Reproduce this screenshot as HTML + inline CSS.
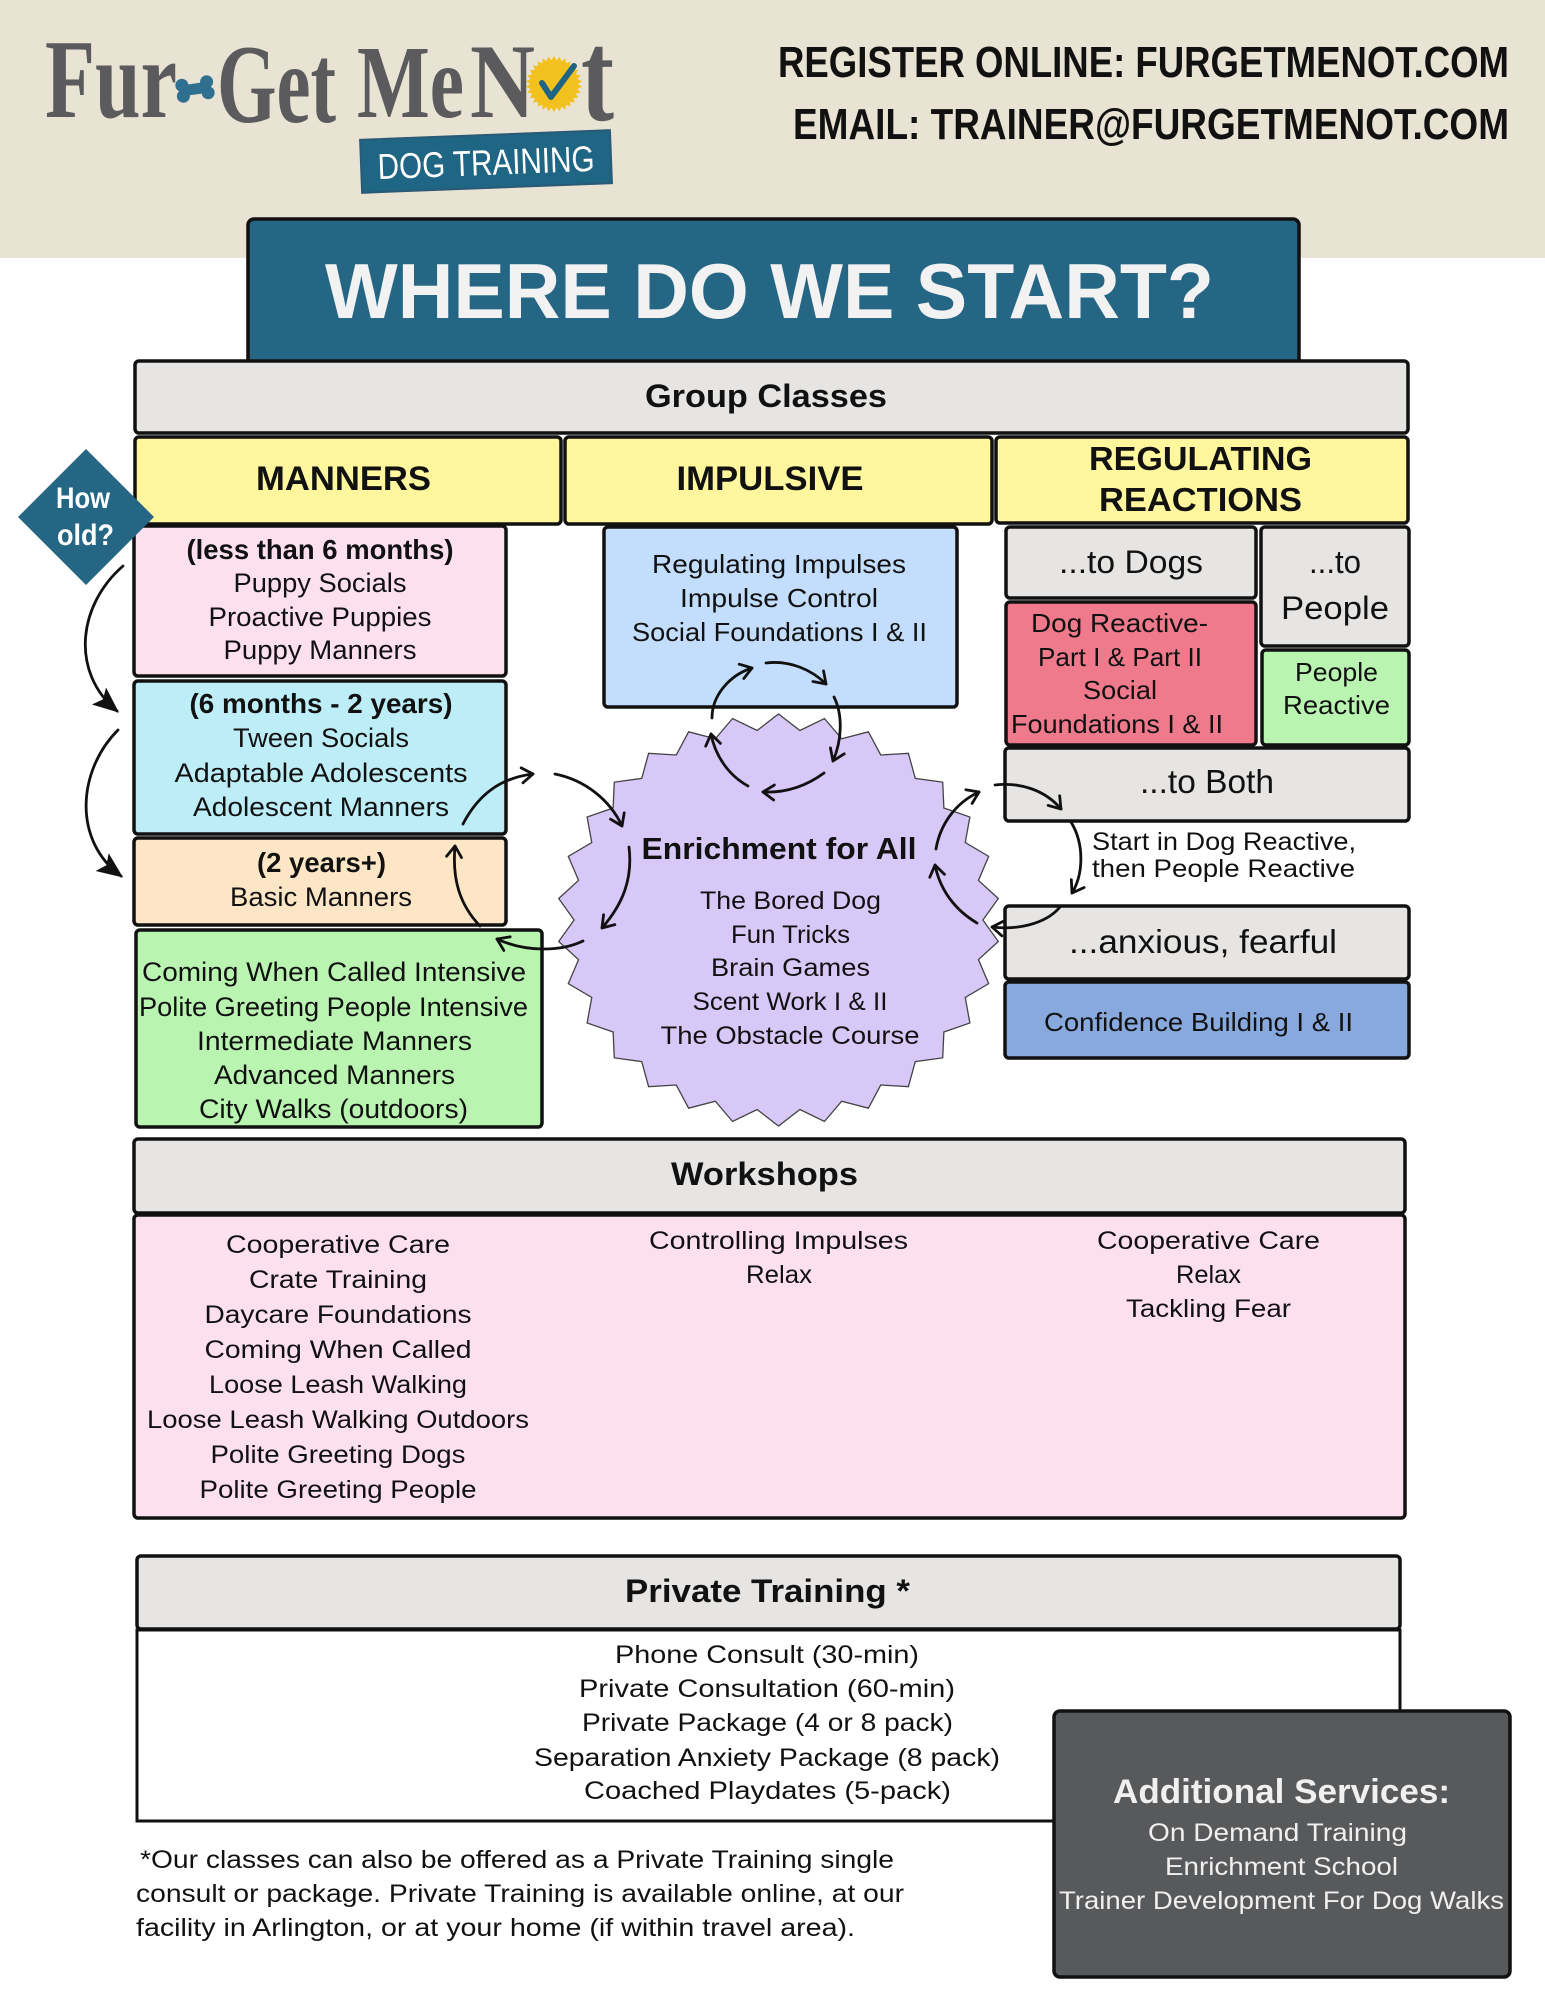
<!DOCTYPE html>
<html>
<head>
<meta charset="utf-8">
<style>
html,body{margin:0;padding:0;background:#fff;}
svg{display:block;}
.t{font-family:"Liberation Sans",sans-serif;fill:#111;}
.b{font-weight:bold;}
</style>
</head>
<body>
<svg xmlns="http://www.w3.org/2000/svg" width="1545" height="2000" viewBox="0 0 1545 2000">
<defs>
  <marker id="oa" viewBox="0 0 20 20" refX="15" refY="10" markerWidth="20" markerHeight="20" orient="auto" markerUnits="userSpaceOnUse">
    <path d="M4,2.5 L15,10 L4,17.5" fill="none" stroke="#111" stroke-width="2.8" stroke-linecap="round" stroke-linejoin="round"/>
  </marker>
  <marker id="fa" viewBox="0 0 20 20" refX="18" refY="10" markerWidth="26" markerHeight="26" orient="auto" markerUnits="userSpaceOnUse">
    <path d="M0,1.5 L20,10 L0,18.5 L4,10 Z" fill="#111"/>
  </marker>
</defs>

<rect width="1545" height="2000" fill="#fff"/>
<rect width="1545" height="258" fill="#e9e3d4"/>

<!-- Logo -->
<g font-family="Liberation Serif, serif" font-weight="bold" fill="#5b5b5d">
  <text x="45" y="117" font-size="112" textLength="132" lengthAdjust="spacingAndGlyphs">Fur</text>
  <text x="217" y="122" font-size="112" textLength="119" lengthAdjust="spacingAndGlyphs">Get</text>
  <text x="357" y="117" font-size="104" textLength="107" lengthAdjust="spacingAndGlyphs">Me</text>
  <text x="470" y="117" font-size="106" textLength="65" lengthAdjust="spacingAndGlyphs">N</text>
  <text x="581" y="120" font-size="130" textLength="33" lengthAdjust="spacingAndGlyphs">t</text>
</g>
<g transform="translate(195,89) rotate(-8)" fill="#2f6f8f">
  <rect x="-12" y="-5.5" width="24" height="11"/>
  <circle cx="-12.5" cy="-5.5" r="6.5"/><circle cx="-12.5" cy="5.5" r="6.5"/>
  <circle cx="12.5" cy="-5.5" r="6.5"/><circle cx="12.5" cy="5.5" r="6.5"/>
</g>
<polygon transform="translate(554,84) scale(28)" fill="#f3c11d" points="0.85,0 0.9945,-0.1045 0.8314,-0.1767 0.9511,-0.309 0.7765,-0.3457 0.866,-0.5 0.6877,-0.4996 0.7431,-0.6691 0.5687,-0.6317 0.5878,-0.809 0.425,-0.7361 0.4067,-0.9135 0.2627,-0.8084 0.2079,-0.9781 0.0888,-0.8453 0,-1 -0.0888,-0.8453 -0.2079,-0.9781 -0.2627,-0.8084 -0.4067,-0.9135 -0.425,-0.7361 -0.5878,-0.809 -0.5687,-0.6317 -0.7431,-0.6691 -0.6877,-0.4996 -0.866,-0.5 -0.7765,-0.3457 -0.9511,-0.309 -0.8314,-0.1767 -0.9945,-0.1045 -0.85,0 -0.9945,0.1045 -0.8314,0.1767 -0.9511,0.309 -0.7765,0.3457 -0.866,0.5 -0.6877,0.4996 -0.7431,0.6691 -0.5687,0.6317 -0.5878,0.809 -0.425,0.7361 -0.4067,0.9135 -0.2627,0.8084 -0.2079,0.9781 -0.0888,0.8453 0,1 0.0888,0.8453 0.2079,0.9781 0.2627,0.8084 0.4067,0.9135 0.425,0.7361 0.5878,0.809 0.5687,0.6317 0.7431,0.6691 0.6877,0.4996 0.866,0.5 0.7765,0.3457 0.9511,0.309 0.8314,0.1767 0.9945,0.1045"/>
<path d="M542,83 L551,97 L574,66" fill="none" stroke="#1f6483" stroke-width="6" stroke-linecap="round" stroke-linejoin="round"/>
<g transform="rotate(-2.2 486 161)">
  <rect x="361" y="135" width="250" height="53" fill="#1f6584" stroke="#2b5a77" stroke-width="2"/>
  <text class="t" x="486" y="175" text-anchor="middle" font-size="36" textLength="217" lengthAdjust="spacingAndGlyphs" style="fill:#fff">DOG TRAINING</text>
</g>

<!-- Header contact -->
<text class="t b" x="778" y="77" font-size="44" textLength="731" lengthAdjust="spacingAndGlyphs">REGISTER ONLINE: FURGETMENOT.COM</text>
<text class="t b" x="793" y="139" font-size="44" textLength="716" lengthAdjust="spacingAndGlyphs">EMAIL: TRAINER@FURGETMENOT.COM</text>

<!-- Title -->
<rect x="248" y="219" width="1051" height="160" rx="6" fill="#256685" stroke="#111" stroke-width="3.5"/>
<text class="t b" x="325" y="318" font-size="78" textLength="889" lengthAdjust="spacingAndGlyphs" style="fill:#f2f2f2">WHERE DO WE START?</text>

<!-- Group classes bar -->
<rect x="135" y="361" width="1273" height="72" rx="4" fill="#e6e5e3" stroke="#111" stroke-width="3.5"/>
<text class="t b" x="766" y="407" text-anchor="middle" font-size="32" textLength="242" lengthAdjust="spacingAndGlyphs">Group Classes</text>

<!-- Column headers -->
<rect x="135" y="437" width="426" height="87" rx="4" fill="#fff69e" stroke="#111" stroke-width="3.5"/>
<rect x="565" y="437" width="427" height="87" rx="4" fill="#fff69e" stroke="#111" stroke-width="3.5"/>
<rect x="996" y="437" width="412" height="86" rx="4" fill="#fff69e" stroke="#111" stroke-width="3.5"/>
<text class="t b" x="343.5" y="490" text-anchor="middle" font-size="34" textLength="175" lengthAdjust="spacingAndGlyphs">MANNERS</text>
<text class="t b" x="770" y="490" text-anchor="middle" font-size="34" textLength="187" lengthAdjust="spacingAndGlyphs">IMPULSIVE</text>
<text class="t b" x="1200.5" y="470" text-anchor="middle" font-size="33" textLength="223" lengthAdjust="spacingAndGlyphs">REGULATING</text>
<text class="t b" x="1200.5" y="511" text-anchor="middle" font-size="33" textLength="203" lengthAdjust="spacingAndGlyphs">REACTIONS</text>

<!-- Manners column boxes -->
<rect x="134" y="526" width="372" height="150" rx="4" fill="#fde0ee" stroke="#111" stroke-width="3.5"/>
<rect x="134" y="681" width="372" height="153" rx="4" fill="#bdeef7" stroke="#111" stroke-width="3.5"/>
<rect x="134" y="838" width="372" height="87" rx="4" fill="#fde6c6" stroke="#111" stroke-width="3.5"/>
<rect x="136" y="930" width="406" height="197" rx="4" fill="#b9f5b0" stroke="#111" stroke-width="3.5"/>

<text class="t b" x="320" y="559" text-anchor="middle" font-size="28" textLength="267" lengthAdjust="spacingAndGlyphs">(less than 6 months)</text>
<text class="t" x="320" y="592" text-anchor="middle" font-size="27" textLength="173" lengthAdjust="spacingAndGlyphs">Puppy Socials</text>
<text class="t" x="320" y="626" text-anchor="middle" font-size="27" textLength="223" lengthAdjust="spacingAndGlyphs">Proactive Puppies</text>
<text class="t" x="320" y="659" text-anchor="middle" font-size="27" textLength="193" lengthAdjust="spacingAndGlyphs">Puppy Manners</text>

<text class="t b" x="321" y="713" text-anchor="middle" font-size="28" textLength="263" lengthAdjust="spacingAndGlyphs">(6 months - 2 years)</text>
<text class="t" x="321" y="747" text-anchor="middle" font-size="27" textLength="176" lengthAdjust="spacingAndGlyphs">Tween Socials</text>
<text class="t" x="321" y="782" text-anchor="middle" font-size="27" textLength="293" lengthAdjust="spacingAndGlyphs">Adaptable Adolescents</text>
<text class="t" x="321" y="816" text-anchor="middle" font-size="27" textLength="256" lengthAdjust="spacingAndGlyphs">Adolescent Manners</text>

<text class="t b" x="321.5" y="872" text-anchor="middle" font-size="28" textLength="129" lengthAdjust="spacingAndGlyphs">(2 years+)</text>
<text class="t" x="321" y="906" text-anchor="middle" font-size="27" textLength="182" lengthAdjust="spacingAndGlyphs">Basic Manners</text>

<text class="t" x="334" y="981" text-anchor="middle" font-size="27" textLength="384" lengthAdjust="spacingAndGlyphs">Coming When Called Intensive</text>
<text class="t" x="333.5" y="1016" text-anchor="middle" font-size="27" textLength="389" lengthAdjust="spacingAndGlyphs">Polite Greeting People Intensive</text>
<text class="t" x="334.5" y="1050" text-anchor="middle" font-size="27" textLength="275" lengthAdjust="spacingAndGlyphs">Intermediate Manners</text>
<text class="t" x="334.5" y="1084" text-anchor="middle" font-size="27" textLength="241" lengthAdjust="spacingAndGlyphs">Advanced Manners</text>
<text class="t" x="333.5" y="1118" text-anchor="middle" font-size="27" textLength="269" lengthAdjust="spacingAndGlyphs">City Walks (outdoors)</text>

<!-- How old diamond -->
<polygon points="86,449 154,517 86,585 18,517" fill="#256685"/>
<text class="t b" x="83" y="508" text-anchor="middle" font-size="30" textLength="54" lengthAdjust="spacingAndGlyphs" style="fill:#fff">How</text>
<text class="t b" x="85.5" y="545" text-anchor="middle" font-size="30" textLength="57" lengthAdjust="spacingAndGlyphs" style="fill:#fff">old?</text>

<!-- Impulsive box -->
<rect x="604" y="527" width="353" height="180" rx="4" fill="#c3ddfc" stroke="#111" stroke-width="3.5"/>
<text class="t" x="779" y="573" text-anchor="middle" font-size="26" textLength="254" lengthAdjust="spacingAndGlyphs">Regulating Impulses</text>
<text class="t" x="779" y="607" text-anchor="middle" font-size="26" textLength="198" lengthAdjust="spacingAndGlyphs">Impulse Control</text>
<text class="t" x="779.5" y="641" text-anchor="middle" font-size="26" textLength="295" lengthAdjust="spacingAndGlyphs">Social Foundations I &amp; II</text>

<!-- Regulating reactions boxes -->
<rect x="1006" y="527" width="250" height="71" rx="4" fill="#e6e5e3" stroke="#111" stroke-width="3.5"/>
<rect x="1261" y="527" width="148" height="119" rx="4" fill="#e6e5e3" stroke="#111" stroke-width="3.5"/>
<rect x="1006" y="602" width="250" height="143" rx="4" fill="#ef7a8c" stroke="#111" stroke-width="3.5"/>
<rect x="1262" y="650" width="147" height="95" rx="4" fill="#b9f5b0" stroke="#111" stroke-width="3.5"/>
<rect x="1005" y="748" width="404" height="73" rx="4" fill="#e6e5e3" stroke="#111" stroke-width="3.5"/>
<rect x="1005" y="906" width="404" height="73" rx="4" fill="#e6e5e3" stroke="#111" stroke-width="3.5"/>
<rect x="1005" y="982" width="404" height="76" rx="4" fill="#88a9dd" stroke="#111" stroke-width="3.5"/>

<text class="t" x="1131" y="573" text-anchor="middle" font-size="32" textLength="144" lengthAdjust="spacingAndGlyphs">...to Dogs</text>
<text class="t" x="1335" y="573" text-anchor="middle" font-size="32" textLength="52" lengthAdjust="spacingAndGlyphs">...to</text>
<text class="t" x="1335" y="619" text-anchor="middle" font-size="32" textLength="108" lengthAdjust="spacingAndGlyphs">People</text>
<text class="t" x="1119.5" y="632" text-anchor="middle" font-size="26" textLength="177" lengthAdjust="spacingAndGlyphs">Dog Reactive-</text>
<text class="t" x="1120" y="666" text-anchor="middle" font-size="26" textLength="164" lengthAdjust="spacingAndGlyphs">Part I &amp; Part II</text>
<text class="t" x="1120" y="699" text-anchor="middle" font-size="26" textLength="74" lengthAdjust="spacingAndGlyphs">Social</text>
<text class="t" x="1117" y="733" text-anchor="middle" font-size="26" textLength="212" lengthAdjust="spacingAndGlyphs">Foundations I &amp; II</text>
<text class="t" x="1336.5" y="681" text-anchor="middle" font-size="26" textLength="83" lengthAdjust="spacingAndGlyphs">People</text>
<text class="t" x="1336.5" y="714" text-anchor="middle" font-size="26" textLength="107" lengthAdjust="spacingAndGlyphs">Reactive</text>
<text class="t" x="1207" y="793" text-anchor="middle" font-size="33" textLength="134" lengthAdjust="spacingAndGlyphs">...to Both</text>
<text class="t" x="1092" y="850" font-size="25" textLength="264" lengthAdjust="spacingAndGlyphs">Start in Dog Reactive,</text>
<text class="t" x="1092" y="877" font-size="25" textLength="263" lengthAdjust="spacingAndGlyphs">then People Reactive</text>
<text class="t" x="1203" y="953" text-anchor="middle" font-size="33" textLength="268" lengthAdjust="spacingAndGlyphs">...anxious, fearful</text>
<text class="t" x="1198.5" y="1031" text-anchor="middle" font-size="26" textLength="309" lengthAdjust="spacingAndGlyphs">Confidence Building I &amp; II</text>

<!-- Enrichment starburst -->
<polygon transform="translate(778.5,920) scale(221,206)" fill="#d8c8f8" stroke="#444" stroke-width="1.3" vector-effect="non-scaling-stroke" points="0.925,0 0.9945,-0.1045 0.9047,-0.1923 0.9511,-0.309 0.845,-0.3762 0.866,-0.5 0.7483,-0.5437 0.7431,-0.6691 0.6189,-0.6874 0.5878,-0.809 0.4625,-0.8011 0.4067,-0.9135 0.2858,-0.8798 0.2079,-0.9781 0.0967,-0.9199 0,-1 -0.0967,-0.9199 -0.2079,-0.9781 -0.2858,-0.8798 -0.4067,-0.9135 -0.4625,-0.8011 -0.5878,-0.809 -0.6189,-0.6874 -0.7431,-0.6691 -0.7483,-0.5437 -0.866,-0.5 -0.845,-0.3762 -0.9511,-0.309 -0.9047,-0.1923 -0.9945,-0.1045 -0.925,0 -0.9945,0.1045 -0.9047,0.1923 -0.9511,0.309 -0.845,0.3762 -0.866,0.5 -0.7483,0.5437 -0.7431,0.6691 -0.6189,0.6874 -0.5878,0.809 -0.4625,0.8011 -0.4067,0.9135 -0.2858,0.8798 -0.2079,0.9781 -0.0967,0.9199 0,1 0.0967,0.9199 0.2079,0.9781 0.2858,0.8798 0.4067,0.9135 0.4625,0.8011 0.5878,0.809 0.6189,0.6874 0.7431,0.6691 0.7483,0.5437 0.866,0.5 0.845,0.3762 0.9511,0.309 0.9047,0.1923 0.9945,0.1045"/>
<text class="t b" x="779" y="859" text-anchor="middle" font-size="31" textLength="275" lengthAdjust="spacingAndGlyphs">Enrichment for All</text>
<text class="t" x="790.5" y="909" text-anchor="middle" font-size="25" textLength="181" lengthAdjust="spacingAndGlyphs">The Bored Dog</text>
<text class="t" x="790.5" y="943" text-anchor="middle" font-size="25" textLength="119" lengthAdjust="spacingAndGlyphs">Fun Tricks</text>
<text class="t" x="790.5" y="976" text-anchor="middle" font-size="25" textLength="159" lengthAdjust="spacingAndGlyphs">Brain Games</text>
<text class="t" x="790" y="1010" text-anchor="middle" font-size="25" textLength="195" lengthAdjust="spacingAndGlyphs">Scent Work I &amp; II</text>
<text class="t" x="790" y="1044" text-anchor="middle" font-size="25" textLength="259" lengthAdjust="spacingAndGlyphs">The Obstacle Course</text>

<!-- Arrows -->
<g fill="none" stroke="#111" stroke-width="2.8" stroke-linecap="round">
  <path d="M123,566 C78,605 70,672 117,711" marker-end="url(#fa)"/>
  <path d="M118,730 C78,770 72,840 121,876" marker-end="url(#fa)"/>

  <path d="M463,824 C478,795 500,778 533,774" marker-end="url(#oa)"/>
  <path d="M555,774 C585,780 610,800 622,826" marker-end="url(#oa)"/>
  <path d="M629,847 C633,880 622,905 602,928" marker-end="url(#oa)"/>
  <path d="M583,941 C560,952 525,952 497,939" marker-end="url(#oa)"/>
  <path d="M480,926 C460,905 452,880 455,846" marker-end="url(#oa)"/>

  <path d="M712,718 C712,695 730,675 752,668" marker-end="url(#oa)"/>
  <path d="M766,663 C790,660 812,670 826,684" marker-end="url(#oa)"/>
  <path d="M834,697 C843,715 842,740 833,761" marker-end="url(#oa)"/>
  <path d="M824,773 C805,787 785,793 763,792" marker-end="url(#oa)"/>
  <path d="M748,786 C728,775 715,755 711,734" marker-end="url(#oa)"/>

  <path d="M936,849 C940,825 955,803 979,792" marker-end="url(#oa)"/>
  <path d="M995,785 C1020,782 1045,790 1061,809" marker-end="url(#oa)"/>
  <path d="M1071,822 C1085,845 1083,875 1072,893" marker-end="url(#oa)"/>
  <path d="M1060,907 C1045,925 1015,930 992,927" marker-end="url(#oa)"/>
  <path d="M977,923 C955,910 940,890 935,865" marker-end="url(#oa)"/>
</g>

<!-- Workshops -->
<rect x="134" y="1139" width="1271" height="74" rx="4" fill="#e6e5e3" stroke="#111" stroke-width="3.5"/>
<rect x="134" y="1215" width="1271" height="303" rx="4" fill="#fde0ee" stroke="#111" stroke-width="3.5"/>
<text class="t b" x="764.5" y="1185" text-anchor="middle" font-size="32" textLength="187" lengthAdjust="spacingAndGlyphs">Workshops</text>

<text class="t" x="338" y="1253" text-anchor="middle" font-size="25" textLength="224" lengthAdjust="spacingAndGlyphs">Cooperative Care</text>
<text class="t" x="338" y="1288" text-anchor="middle" font-size="25" textLength="178" lengthAdjust="spacingAndGlyphs">Crate Training</text>
<text class="t" x="338" y="1323" text-anchor="middle" font-size="25" textLength="267" lengthAdjust="spacingAndGlyphs">Daycare Foundations</text>
<text class="t" x="338" y="1358" text-anchor="middle" font-size="25" textLength="267" lengthAdjust="spacingAndGlyphs">Coming When Called</text>
<text class="t" x="338" y="1393" text-anchor="middle" font-size="25" textLength="258" lengthAdjust="spacingAndGlyphs">Loose Leash Walking</text>
<text class="t" x="338" y="1428" text-anchor="middle" font-size="25" textLength="382" lengthAdjust="spacingAndGlyphs">Loose Leash Walking Outdoors</text>
<text class="t" x="338" y="1463" text-anchor="middle" font-size="25" textLength="255" lengthAdjust="spacingAndGlyphs">Polite Greeting Dogs</text>
<text class="t" x="338" y="1498" text-anchor="middle" font-size="25" textLength="277" lengthAdjust="spacingAndGlyphs">Polite Greeting People</text>

<text class="t" x="778.5" y="1249" text-anchor="middle" font-size="25" textLength="259" lengthAdjust="spacingAndGlyphs">Controlling Impulses</text>
<text class="t" x="779" y="1283" text-anchor="middle" font-size="25" textLength="66" lengthAdjust="spacingAndGlyphs">Relax</text>

<text class="t" x="1208.5" y="1249" text-anchor="middle" font-size="25" textLength="223" lengthAdjust="spacingAndGlyphs">Cooperative Care</text>
<text class="t" x="1208.5" y="1283" text-anchor="middle" font-size="25" textLength="65" lengthAdjust="spacingAndGlyphs">Relax</text>
<text class="t" x="1208.5" y="1317" text-anchor="middle" font-size="25" textLength="165" lengthAdjust="spacingAndGlyphs">Tackling Fear</text>

<!-- Private training -->
<rect x="137" y="1630" width="1263" height="191" fill="#fff" stroke="#111" stroke-width="3"/>
<rect x="137" y="1556" width="1263" height="73" rx="4" fill="#e6e5e3" stroke="#111" stroke-width="3.5"/>
<text class="t b" x="767.5" y="1602" text-anchor="middle" font-size="32" textLength="285" lengthAdjust="spacingAndGlyphs">Private Training *</text>
<text class="t" x="767" y="1663" text-anchor="middle" font-size="25" textLength="304" lengthAdjust="spacingAndGlyphs">Phone Consult (30-min)</text>
<text class="t" x="767" y="1697" text-anchor="middle" font-size="25" textLength="376" lengthAdjust="spacingAndGlyphs">Private Consultation (60-min)</text>
<text class="t" x="767.5" y="1731" text-anchor="middle" font-size="25" textLength="371" lengthAdjust="spacingAndGlyphs">Private Package (4 or 8 pack)</text>
<text class="t" x="767" y="1766" text-anchor="middle" font-size="25" textLength="466" lengthAdjust="spacingAndGlyphs">Separation Anxiety Package (8 pack)</text>
<text class="t" x="767.5" y="1799" text-anchor="middle" font-size="25" textLength="367" lengthAdjust="spacingAndGlyphs">Coached Playdates (5-pack)</text>

<!-- Footnote -->
<text class="t" x="140" y="1868" font-size="25" textLength="754" lengthAdjust="spacingAndGlyphs">*Our classes can also be offered as a Private Training single</text>
<text class="t" x="136" y="1902" font-size="25" textLength="768" lengthAdjust="spacingAndGlyphs">consult or package. Private Training is available online, at our</text>
<text class="t" x="136" y="1936" font-size="25" textLength="719" lengthAdjust="spacingAndGlyphs">facility in Arlington, or at your home (if within travel area).</text>

<!-- Additional services -->
<rect x="1054" y="1711" width="456" height="266" rx="6" fill="#58595b" stroke="#111" stroke-width="3.5"/>
<text class="t b" x="1281.5" y="1803" text-anchor="middle" font-size="34" textLength="337" lengthAdjust="spacingAndGlyphs" style="fill:#f0f0f0">Additional Services:</text>
<text class="t" x="1277.5" y="1841" text-anchor="middle" font-size="25" textLength="259" lengthAdjust="spacingAndGlyphs" style="fill:#f0f0f0">On Demand Training</text>
<text class="t" x="1281.5" y="1875" text-anchor="middle" font-size="25" textLength="233" lengthAdjust="spacingAndGlyphs" style="fill:#f0f0f0">Enrichment School</text>
<text class="t" x="1281.5" y="1909" text-anchor="middle" font-size="25" textLength="445" lengthAdjust="spacingAndGlyphs" style="fill:#f0f0f0">Trainer Development For Dog Walks</text>
</svg>
</body>
</html>
